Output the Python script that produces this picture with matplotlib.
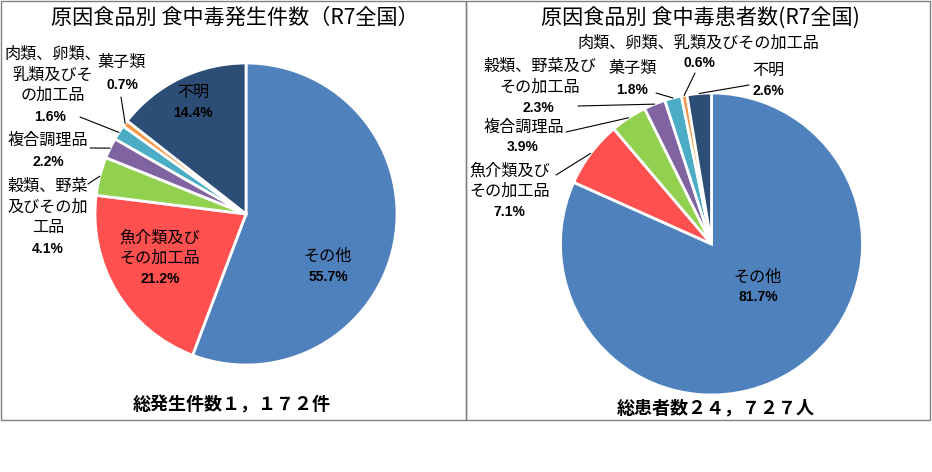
import matplotlib
matplotlib.use("Agg")
import matplotlib.pyplot as plt
import numpy as np
from matplotlib.patches import Rectangle

plt.rcParams['font.family'] = ['Noto Sans CJK JP', 'DejaVu Sans']

W, H = 932, 472

colors = ['#4F81BD', '#FF5050', '#92D050', '#8064A2', '#4BACC6', '#F79646', '#2C4D75']

left_title = '原因食品別 食中毒発生件数（R7全国）'
left_cats = ['その他', '魚介類及び\nその加工品', '穀類、野菜\n及びその加\n工品', '複合調理品',
             '肉類、卵類、\n乳類及びそ\nの加工品', '菓子類', '不明']
left_vals = [55.7, 21.2, 4.1, 2.2, 1.6, 0.7, 14.4]
left_total = '総発生件数１，１７２件'

right_title = '原因食品別 食中毒患者数(R7全国)'
right_cats = ['その他', '魚介類及び\nその加工品', '複合調理品', '穀類、野菜及び\nその加工品',
              '菓子類', '肉類、卵類、乳類及びその加工品', '不明']
right_vals = [81.7, 7.1, 3.9, 2.3, 1.8, 0.6, 2.6]
right_total = '総患者数２４，７２７人'

# label layout: (name x, name y, pct x, pct y, leader start or None) in pixels from top-left
left_layout = [
    (328, 256, 328, 277, None),
    (160, 248, 160, 279, None),
    (48, 207, 48, 249, (88, 184)),
    (48, 140, 48, 162, (90, 148)),
    (53, 75, 50, 117, (80, 117)),
    (122, 62, 122, 85, (121, 97)),
    (193, 92, 193, 113, None),
]
right_layout = [
    (758, 277, 758, 297, None),
    (510, 181, 509, 212, (556, 175)),
    (524, 127, 523, 147, (566, 132)),
    (540, 77, 538, 108, (578, 106)),
    (633, 68, 632, 90, (656, 93)),
    (698, 43, 699, 63, (695, 73)),
    (768, 70, 768, 91, (749, 85)),
]

fig = plt.figure(figsize=(W / 100, H / 100), dpi=100)
fig.patch.set_facecolor('white')


def fx(x):
    return x / W


def fy(y):
    return 1 - y / H


# panel borders
for x0, x1 in [(0.5, 466), (466, 930)]:
    fig.patches.append(Rectangle((fx(x0), fy(420)), fx(x1 - x0), 420 / H - 0.5 / H,
                                 transform=fig.transFigure, fill=False,
                                 edgecolor='#808080', linewidth=1.0))


def draw_pie(cx, cy, r, vals, cats, layout, title, title_x, total, total_x, total_y):
    ax = fig.add_axes([fx(cx - r), fy(cy + r), (2 * r) / W, (2 * r) / H])
    ax.pie(vals, colors=colors, startangle=90, counterclock=False, radius=1,
           wedgeprops=dict(edgecolor='white', linewidth=2))
    ax.set_xlim(-1, 1)
    ax.set_ylim(-1, 1)
    ax.set_aspect('equal')
    ax.axis('off')
    total_sum = sum(vals)
    cum = 0
    for v, c, (nx, ny, px, py, lead) in zip(vals, cats, layout):
        mid = cum + v / 2
        cum += v
        theta = np.deg2rad(90 - 360 * mid / total_sum)
        fig.text(fx(nx), fy(ny), c, ha='center', va='center', fontsize=11.6,
                 linespacing=1.25, color='black')
        fig.text(fx(px), fy(py), f'{v:.1f}%', ha='center', va='center', fontsize=10,
                 fontweight='bold', color='black', family=['Liberation Sans', 'DejaVu Sans'])
        if lead is not None:
            ax.annotate('', xy=(np.cos(theta) * 1.0, np.sin(theta) * 1.0), xycoords='data',
                        xytext=(lead[0], H - lead[1]), textcoords='figure pixels',
                        arrowprops=dict(arrowstyle='-', color='black', lw=0.8,
                                        shrinkA=0, shrinkB=0))
    fig.text(fx(title_x), fy(18), title, ha='center', va='center', fontsize=15.2)
    fig.text(fx(total_x), fy(total_y), total, ha='center', va='center', fontsize=13,
             fontweight='bold')


draw_pie(246, 214, 151, left_vals, left_cats, left_layout, left_title, 235,
         left_total, 232, 405)
draw_pie(711.5, 244, 151, right_vals, right_cats, right_layout, right_title, 700,
         right_total, 716, 408)

fig.savefig('out.png', dpi=100, facecolor='white')
